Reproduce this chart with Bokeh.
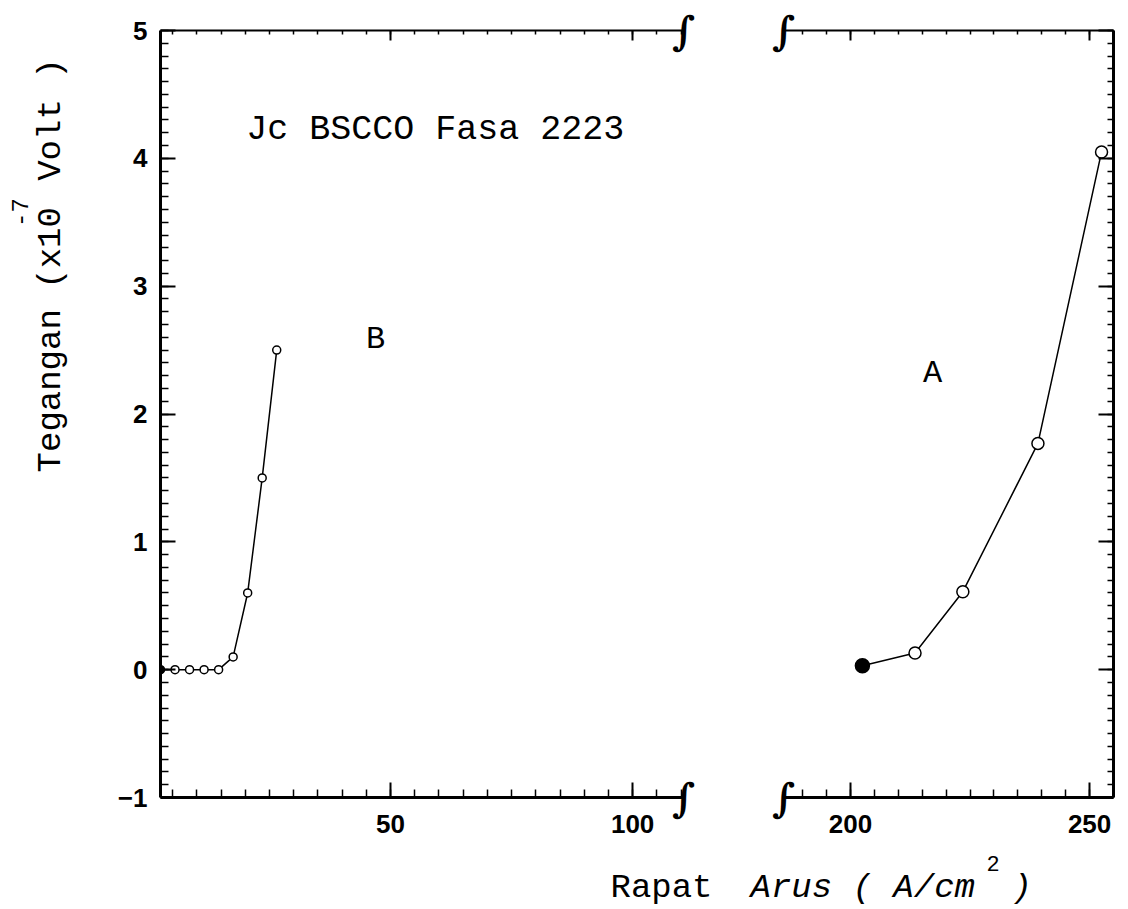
from math import pi
from bokeh.plotting import figure
from bokeh.layouts import column, row
from bokeh.models import (Range1d, LinearAxis, SingleIntervalTicker, Label,
                          CustomJSTickFormatter, ColumnDataSource)
from bokeh.core.properties import value
from bokeh.embed import file_html
from bokeh.resources import INLINE

# ---------------- data ----------------
b_current = [2.5, 5.5, 8.5, 11.5, 14.5, 17.5, 20.5, 23.5, 26.5]
b_voltage = [0.0, 0.0, 0.0, 0.0, 0.0, 0.1, 0.6, 1.5, 2.5]
b_filled = [True, False, False, False, False, False, False, False, False]

a_current = [202.5, 213.5, 223.5, 239.2, 252.5]
a_voltage = [0.03, 0.13, 0.61, 1.77, 4.05]
a_filled = [True, False, False, False, False]

left_xlim = (2.5, 110.5)
right_xlim = (186.0, 255.0)
ylim = (-1.0, 5.0)
x_major = 50
y_major = 1

title_text = "Jc BSCCO Fasa 2223"
series_names = ["B", "A"]
y_label_parts = ["Tegangan (x10", "-7", "Volt )"]
x_label_parts = ["Rapat", "Arus ( A/cm", "2", ")"]

MONO = "Liberation Mono"
TICKFONT = "Liberation Sans"

# ---------------- helpers ----------------
def style_axis(ax, major_in, minor_in, labels=True, lw=2.5):
    ax.axis_line_width = lw
    ax.axis_line_color = "black"
    ax.major_tick_in = major_in
    ax.major_tick_out = 0
    ax.minor_tick_in = minor_in
    ax.minor_tick_out = 0
    ax.major_tick_line_width = 2
    ax.minor_tick_line_width = 1.5
    ax.major_tick_line_color = "black"
    ax.minor_tick_line_color = "black"
    ax.major_label_text_font = TICKFONT
    ax.major_label_text_font_style = "bold"
    ax.major_label_text_font_size = "26px"
    ax.major_label_text_color = "black"
    if not labels:
        ax.formatter = CustomJSTickFormatter(code="return ''")
        ax.major_label_standoff = 0


def base_fig(xlim, frame_w, mbl, mbr, yloc="left"):
    p = figure(frame_width=frame_w, frame_height=767,
               x_range=Range1d(*xlim), y_range=Range1d(*ylim),
               output_backend="svg", toolbar_location=None,
               y_axis_location=yloc,
               min_border_left=mbl, min_border_right=mbr,
               min_border_top=30, min_border_bottom=50)
    p.grid.visible = False
    p.outline_line_color = None
    p.background_fill_color = "white"
    p.border_fill_color = "white"
    p.xaxis.ticker = SingleIntervalTicker(interval=x_major, num_minor_ticks=10)
    p.yaxis.ticker = SingleIntervalTicker(interval=y_major, num_minor_ticks=10)
    style_axis(p.xaxis[0], 15, 8, lw=3)
    p.xaxis.major_label_standoff = 17
    top = LinearAxis(ticker=SingleIntervalTicker(interval=x_major, num_minor_ticks=10))
    style_axis(top, 10, 4, labels=False, lw=2)
    p.add_layout(top, "above")
    return p


def brk(p, xval):
    p.text(x=[xval, xval], y=list(ylim), text=["\u222b", "\u222b"],
           text_font=value("DejaVu Serif"), text_font_size="40px",
           text_font_style="bold italic",
           text_align="center", text_baseline="middle", text_color="black",
           level="overlay")

# ---------------- left panel (B) ----------------
p1 = base_fig(left_xlim, 523, 72, 24, "left")
style_axis(p1.yaxis[0], 15, 8, lw=3)
p1.yaxis.major_label_standoff = 13

src_b = ColumnDataSource(dict(x=b_current, y=b_voltage,
                              fc=["black" if f else "white" for f in b_filled]))
p1.line("x", "y", source=src_b, line_color="black", line_width=1.5)
p1.scatter("x", "y", source=src_b, marker="circle", size=8, fill_color="fc",
           line_color="black", line_width=1.5)

p1.add_layout(Label(x=20.2, y=4.22, text=title_text, text_font=MONO,
                    text_font_size="35px", text_align="left",
                    text_baseline="middle", text_color="black"))
p1.add_layout(Label(x=46.9, y=2.58, text=series_names[0], text_font=MONO,
                    text_font_size="32px", text_align="center",
                    text_baseline="middle", text_color="black"))
brk(p1, left_xlim[1])

# ---------------- right panel (A) ----------------
p2 = base_fig(right_xlim, 330, 76, 12, "right")
style_axis(p2.yaxis[0], 15, 6, labels=False, lw=3)

src_a = ColumnDataSource(dict(x=a_current, y=a_voltage,
                              fc=["black" if f else "white" for f in a_filled],
                              sz=[14 if f else 12 for f in a_filled]))
p2.line("x", "y", source=src_a, line_color="black", line_width=1.5)
p2.scatter("x", "y", source=src_a, marker="circle", size="sz", fill_color="fc",
           line_color="black", line_width=1.5)
p2.add_layout(Label(x=217.2, y=2.32, text=series_names[1], text_font=MONO,
                    text_font_size="32px", text_align="center",
                    text_baseline="middle", text_color="black"))
brk(p2, right_xlim[0])

# ---------------- y label strip ----------------
ROW_H = 30 + 767 + 50
ROT_SHIFT = 16  # rotated labels render this far along their direction
pl = figure(width=88, height=ROW_H, x_range=Range1d(0, 88), y_range=Range1d(0, ROW_H),
            x_axis_type=None, y_axis_type=None, output_backend="svg",
            toolbar_location=None, min_border=0)
pl.grid.visible = False
pl.outline_line_color = None
# page coordinates -> strip data: x = page_x, y = ROW_H - page_y
pl.add_layout(Label(x=50, y=ROW_H - 472 - ROT_SHIFT, text=y_label_parts[0], angle=pi / 2,
                    text_font=MONO, text_font_size="34px", text_align="left",
                    text_baseline="middle", text_color="black"))
pl.add_layout(Label(x=19, y=ROW_H - 201 - ROT_SHIFT, text=y_label_parts[1], angle=pi / 2,
                    text_font=MONO, text_font_size="24px", text_align="left",
                    text_baseline="middle", text_color="black"))
pl.add_layout(Label(x=50, y=ROW_H - 150 - ROT_SHIFT, text=y_label_parts[2], angle=pi / 2,
                    text_font=MONO, text_font_size="34px", text_align="left",
                    text_baseline="middle", text_color="black"))

# ---------------- x label strip ----------------
STRIP_H = 60
px = figure(width=1125, height=STRIP_H, x_range=Range1d(0, 1125), y_range=Range1d(0, STRIP_H),
            x_axis_type=None, y_axis_type=None, output_backend="svg",
            toolbar_location=None, min_border=0)
px.grid.visible = False
px.outline_line_color = None
BASE = 20
px.add_layout(Label(x=610, y=BASE, text=x_label_parts[0], text_font=MONO,
                    text_font_size="34px", text_align="left",
                    text_baseline="alphabetic", text_color="black"))
px.add_layout(Label(x=750, y=BASE, text=x_label_parts[1], text_font=MONO,
                    text_font_size="34px", text_font_style="italic",
                    text_align="left", text_baseline="alphabetic",
                    text_color="black"))
px.add_layout(Label(x=986, y=BASE + 24, text=x_label_parts[2], text_font=MONO,
                    text_font_size="22px", text_align="left",
                    text_baseline="alphabetic", text_color="black"))
px.add_layout(Label(x=1011, y=BASE, text=x_label_parts[3], text_font=MONO,
                    text_font_size="34px", text_font_style="italic",
                    text_align="left", text_baseline="alphabetic",
                    text_color="black"))

layout = column(row(pl, p1, p2, spacing=0), px, spacing=0)
open("out.html", "w").write(file_html(layout, INLINE))
